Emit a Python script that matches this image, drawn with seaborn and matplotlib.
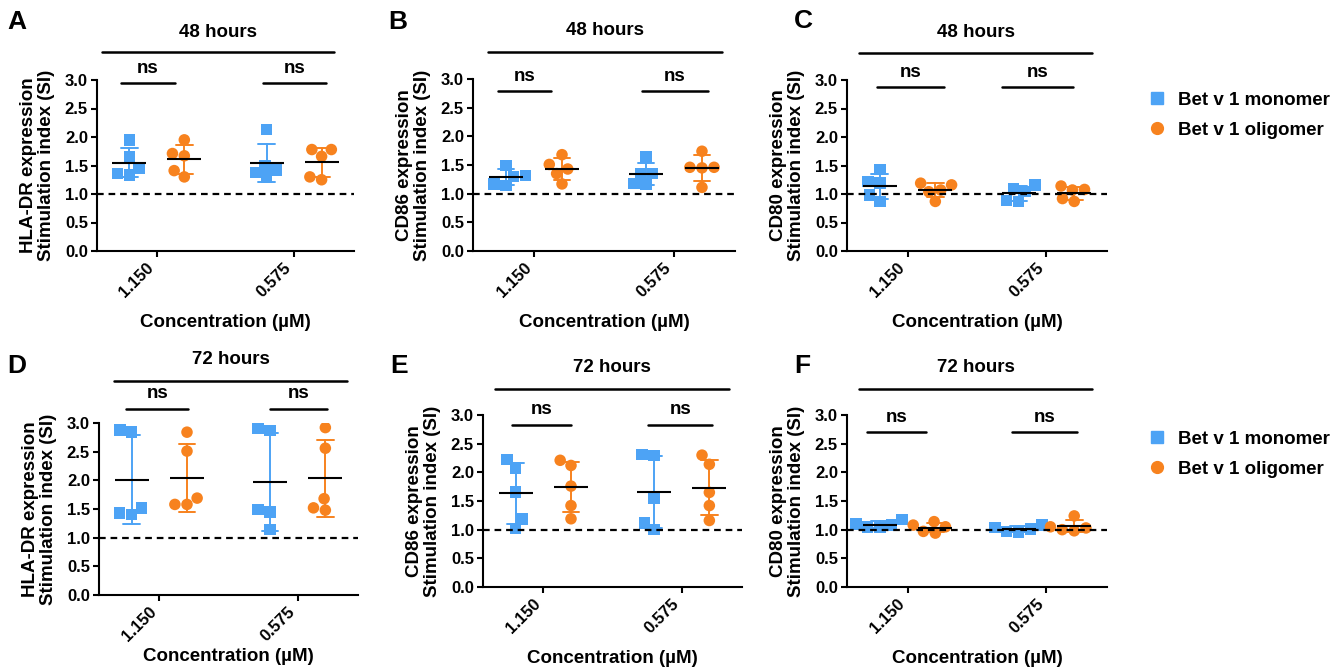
import pandas as pd
import seaborn as sns
import matplotlib.pyplot as plt
from matplotlib.lines import Line2D

# Categories
conc = ['1.150', '0.575']
groups = ['Bet v 1 monomer', 'Bet v 1 oligomer']
colors = ['#4DA3F5', '#F7821E']

# Stimulation index values, [1.150 uM], [0.575 uM]
hla48_mono = [[1.95, 1.65, 1.45, 1.33, 1.36], [2.13, 1.50, 1.30, 1.42, 1.38]]
hla48_olig = [[1.95, 1.67, 1.71, 1.30, 1.41], [1.78, 1.78, 1.66, 1.25, 1.30]]
cd86_48_mono = [[1.49, 1.30, 1.32, 1.14, 1.17], [1.64, 1.35, 1.35, 1.17, 1.18]]
cd86_48_olig = [[1.68, 1.51, 1.43, 1.35, 1.17], [1.74, 1.46, 1.46, 1.45, 1.11]]
cd80_48_mono = [[1.43, 1.19, 1.22, 0.87, 0.98], [1.16, 1.10, 0.87, 0.89, 1.04]]
cd80_48_olig = [[1.19, 1.16, 1.07, 1.04, 0.87], [1.08, 1.14, 0.87, 0.92, 1.07]]
hla72_mono = [[2.88, 2.84, 1.40, 1.52, 1.43], [2.91, 2.87, 1.49, 1.45, 1.14]]
hla72_olig = [[2.84, 2.51, 1.69, 1.58, 1.58], [2.92, 2.56, 1.68, 1.48, 1.52]]
cd86_72_mono = [[2.22, 2.08, 1.66, 1.19, 1.02], [2.31, 2.29, 1.54, 1.12, 1.00]]
cd86_72_olig = [[2.21, 2.12, 1.76, 1.42, 1.19], [2.30, 2.14, 1.65, 1.42, 1.16]]
cd80_72_mono = [[1.18, 1.10, 1.08, 1.05, 1.04], [1.08, 0.97, 0.96, 1.04, 1.01]]
cd80_72_olig = [[1.14, 0.94, 0.97, 1.08, 1.05], [1.24, 1.00, 1.05, 1.03, 0.98]]

yticks = [0.0, 0.5, 1.0, 1.5, 2.0, 2.5, 3.0]
ytick_labels = ['0.0', '0.5', '1.0', '1.5', '2.0', '2.5', '3.0']


def make_df(mono, olig):
    rows = []
    for g, vals in zip(groups, [mono, olig]):
        for c, v in zip(conc, vals):
            for x in v:
                rows.append({'conc': c, 'group': g, 'si': x})
    return pd.DataFrame(rows)


sns.set_style('ticks')
plt.rcParams['font.family'] = ['Liberation Sans', 'DejaVu Sans']
plt.rcParams['font.weight'] = 'bold'
plt.rcParams['axes.labelweight'] = 'bold'
for k in ['text.color', 'axes.labelcolor', 'xtick.color', 'ytick.color',
          'axes.edgecolor']:
    plt.rcParams[k] = 'black'

fig = plt.figure(figsize=(13.43, 6.72), dpi=100)
W, H = 1343, 672

# panel: letter, data, marker, title, axes px (l, r, top, bottom), annotations
panels = [
    ('A', hla48_mono, hla48_olig, 'HLA-DR', '48 hours', (97, 354, 80, 251),
     [(-0.26, 0.13), (0.77, 1.23)], 2.95, (-0.40, 1.29), 3.49, 3.84, 10),
    ('B', cd86_48_mono, cd86_48_olig, 'CD86', '48 hours', (473, 735, 79, 251),
     [(-0.26, 0.12), (0.77, 1.24)], 2.79, (-0.33, 1.34), 3.47, 3.84, 10),
    ('C', cd80_48_mono, cd80_48_olig, 'CD80', '48 hours', (847, 1107, 80, 251),
     [(-0.22, 0.26), (0.68, 1.19)], 2.88, (-0.35, 1.33), 3.47, 3.84, 10),
    ('D', hla72_mono, hla72_olig, 'HLA-DR', '72 hours', (99, 358, 423, 595),
     [(-0.24, 0.21), (0.80, 1.21)], 3.25, (-0.33, 1.36), 3.73, 4.10, 3),
    ('E', cd86_72_mono, cd86_72_olig, 'CD86', '72 hours', (483, 742, 415, 587),
     [(-0.23, 0.20), (0.76, 1.22)], 2.83, (-0.35, 1.34), 3.45, 3.82, 10),
    ('F', cd80_72_mono, cd80_72_olig, 'CD80', '72 hours', (847, 1107, 415, 587),
     [(-0.29, 0.13), (0.75, 1.22)], 2.70, (-0.35, 1.33), 3.45, 3.82, 10),
]

pal = dict(zip(groups, colors))
black = dict(zip(groups, ['black', 'black']))

for (letter, mono, olig, marker_name, title, box, ns_spans, ns_y,
     top_span, top_y, title_y, xpad) in panels:
    l, r, t, b = box
    ax = fig.add_axes([l / W, 1 - b / H, (r - l) / W, (b - t) / H])
    df = make_df(mono, olig)

    for g, m in zip(groups, ['s', 'o']):
        sns.swarmplot(data=df[df['group'] == g], x='conc', y='si', hue='group',
                      hue_order=groups, order=conc, dodge=True, palette=pal,
                      marker=m, size=8.3, linewidth=0, legend=False, ax=ax,
                      zorder=3)
    # mean +/- SD
    sns.pointplot(data=df, x='conc', y='si', hue='group', hue_order=groups,
                  order=conc, errorbar='sd', dodge=0.4, linestyle='none',
                  markers='', palette=pal, capsize=0.12,
                  err_kws={'linewidth': 1.4, 'zorder': 4}, legend=False, ax=ax)
    sns.pointplot(data=df, x='conc', y='si', hue='group', hue_order=groups,
                  order=conc, errorbar=None, dodge=0.4, linestyle='none',
                  markers='_', markersize=25, markeredgewidth=1.5,
                  palette=black, legend=False, ax=ax, zorder=5)

    ax.axhline(1.0, color='black', lw=1.6, ls='--', dashes=(3, 2.2), zorder=6)
    ax.set_xlim(-0.436, 1.436)
    ax.set_ylim(0, 3.0)
    ax.set_yticks(yticks)
    ax.set_yticklabels(ytick_labels, fontsize=12, fontweight='bold')
    ax.set_xticks(range(len(conc)))
    ax.set_xticklabels(conc, rotation=45, ha='right', fontsize=12,
                       fontweight='bold')
    ax.set_xlabel('Concentration (µM)', fontsize=13.5, fontweight='bold',
                  labelpad=xpad)
    ax.set_ylabel(marker_name + ' expression\nStimulation index (SI)',
                  fontsize=13.5, fontweight='bold', labelpad=7, linespacing=1.1)
    sns.despine(ax=ax)
    for s in ['left', 'bottom']:
        ax.spines[s].set_linewidth(1.5)
    ax.tick_params(width=1.5, length=4.5, pad=2)

    # significance brackets
    for (x0, x1) in ns_spans:
        ax.plot([x0, x1], [ns_y, ns_y], color='black', lw=1.8, clip_on=False)
        ax.text((x0 + x1) / 2, ns_y + 0.26, 'ns', ha='center', va='center',
                fontsize=13.5, fontweight='bold')
    ax.plot(list(top_span), [top_y, top_y], color='black', lw=1.8,
            clip_on=False)
    ax.text(sum(top_span) / 2, title_y, title, ha='center', va='center',
            fontsize=13.5, fontweight='bold')

# panel letters
letters = [('A', 17, 22), ('B', 398, 22), ('C', 803, 21),
           ('D', 17, 366), ('E', 399, 366), ('F', 802, 366)]
for s, x, y in letters:
    fig.text(x / W, 1 - y / H, s, fontsize=19, fontweight='bold',
             ha='center', va='center')

handles = [Line2D([], [], marker='s', color=colors[0], linestyle='none',
                  markersize=8.5),
           Line2D([], [], marker='o', color=colors[1], linestyle='none',
                  markersize=8.5)]
for y in [84, 423]:
    fig.legend(handles, groups, loc='upper left',
               bbox_to_anchor=(1140 / W, 1 - y / H), frameon=False,
               prop={'size': 13.5, 'weight': 'bold'}, handlelength=1.0,
               handletextpad=0.6, labelspacing=0.7, borderaxespad=0)

fig.savefig('out.png', dpi=100)
